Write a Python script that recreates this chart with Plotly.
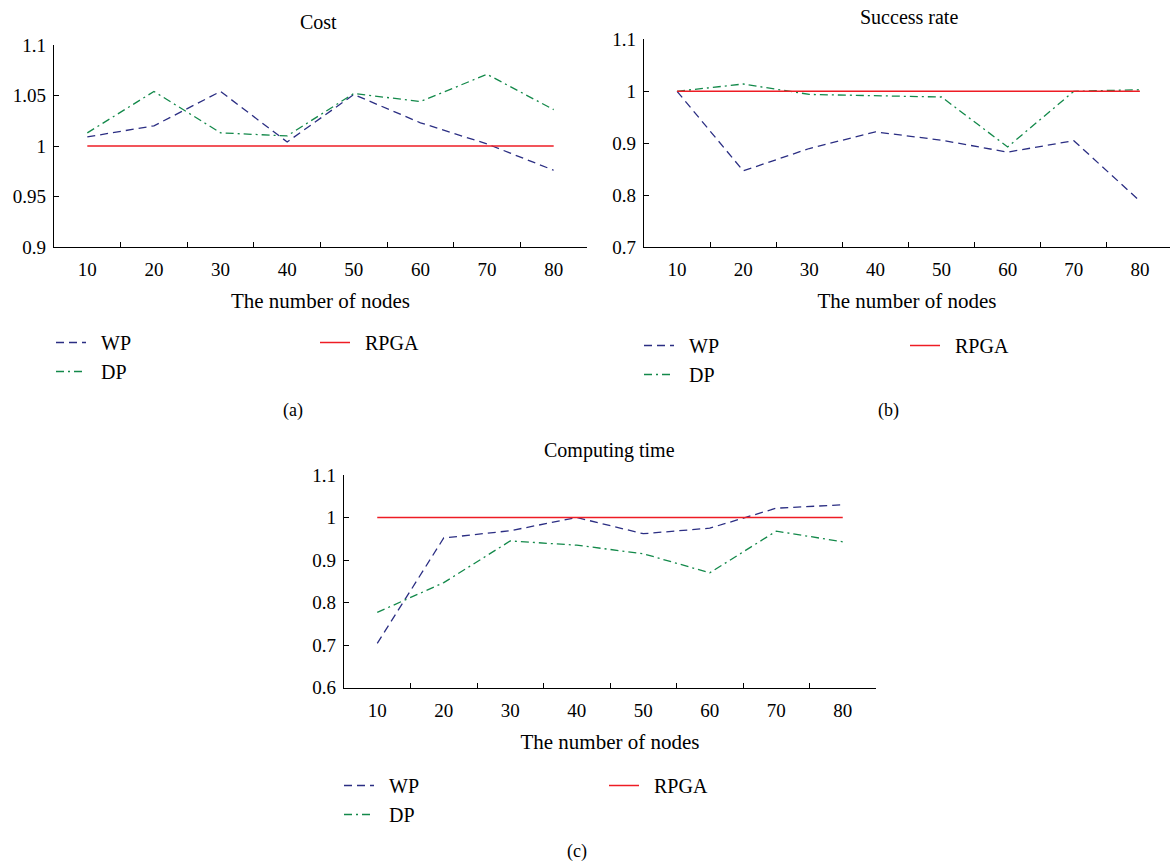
import plotly.graph_objects as go

# ---------------- data ----------------
nodes = [10, 20, 30, 40, 50, 60, 70, 80]

cost_wp = [1.009, 1.020, 1.054, 1.004, 1.051, 1.023, 1.002, 0.976]
cost_dp = [1.013, 1.054, 1.013, 1.010, 1.052, 1.044, 1.071, 1.036]
cost_rpga = [1.0, 1.0, 1.0, 1.0, 1.0, 1.0, 1.0, 1.0]

succ_wp = [1.0, 0.847, 0.890, 0.922, 0.906, 0.883, 0.905, 0.789]
succ_dp = [1.0, 1.014, 0.994, 0.992, 0.989, 0.893, 1.0, 1.003]
succ_rpga = [1.0, 1.0, 1.0, 1.0, 1.0, 1.0, 1.0, 1.0]

time_wp = [0.704, 0.952, 0.969, 1.0, 0.962, 0.975, 1.022, 1.030]
time_dp = [0.777, 0.847, 0.945, 0.935, 0.915, 0.870, 0.968, 0.943]
time_rpga = [1.0, 1.0, 1.0, 1.0, 1.0, 1.0, 1.0, 1.0]

x_ticks = [10, 20, 30, 40, 50, 60, 70, 80]
x_minor = [15, 25, 35, 45, 55, 65, 75]
cost_ticks = [0.9, 0.95, 1.0, 1.05, 1.1]
cost_ticktext = ["0.9", "0.95", "1", "1.05", "1.1"]
succ_ticks = [0.7, 0.8, 0.9, 1.0, 1.1]
succ_ticktext = ["0.7", "0.8", "0.9", "1", "1.1"]
time_ticks = [0.6, 0.7, 0.8, 0.9, 1.0, 1.1]
time_ticktext = ["0.6", "0.7", "0.8", "0.9", "1", "1.1"]

panel_titles = ["Cost", "Success rate", "Computing time"]
panel_labels = ["(a)", "(b)", "(c)"]
x_title = "The number of nodes"
series_names = ["WP", "DP", "RPGA"]

# ---------------- style ----------------
W, H = 1170, 863
FONT = "Liberation Serif"
NAVY = "#2b2e83"
GREEN = "#13894a"
RED = "#ee1c24"
WP_DASH = "8px,5px"
DP_DASH = "8px,4px,2px,4px"
NB = "\u00a0\u00a0"

def px(v):
    return v / W

def py(v):
    return 1 - v / H

fig = go.Figure()

panels = [
    dict(ax="", data=(cost_wp, cost_dp, cost_rpga), leg=("legend", "legend2")),
    dict(ax="2", data=(succ_wp, succ_dp, succ_rpga), leg=("legend3", "legend4")),
    dict(ax="3", data=(time_wp, time_dp, time_rpga), leg=("legend5", "legend6")),
]

for p in panels:
    wp, dp, rp = p["data"]
    xa = "x" + p["ax"]
    ya = "y" + p["ax"]
    fig.add_trace(go.Scatter(x=nodes, y=wp, mode="lines", name=NB + series_names[0],
                             xaxis=xa, yaxis=ya, legend=p["leg"][0],
                             line=dict(color=NAVY, width=1.3, dash=WP_DASH)))
    fig.add_trace(go.Scatter(x=nodes, y=dp, mode="lines", name=NB + series_names[1],
                             xaxis=xa, yaxis=ya, legend=p["leg"][0],
                             line=dict(color=GREEN, width=1.3, dash=DP_DASH)))
    fig.add_trace(go.Scatter(x=nodes, y=rp, mode="lines", name=NB + series_names[2],
                             xaxis=xa, yaxis=ya, legend=p["leg"][1],
                             line=dict(color=RED, width=1.5)))

def xaxis_cfg(domain, rng, anchor):
    return dict(domain=domain, range=rng, anchor=anchor,
                tickmode="array", tickvals=x_ticks, ticks="",
                showline=True, linecolor="black", linewidth=1.2,
                showgrid=False, zeroline=False, automargin=False,
                tickfont=dict(family=FONT, size=19, color="black"),
                ticklabelstandoff=5,
                minor=dict(tickmode="array", tickvals=x_minor, ticks="inside",
                           ticklen=5, tickcolor="black", tickwidth=1, showgrid=False),
                title=dict(text=x_title, standoff=14,
                           font=dict(family=FONT, size=21, color="black")))

def yaxis_cfg(domain, rng, tv, tt, anchor):
    return dict(domain=domain, range=rng, anchor=anchor,
                tickmode="array", tickvals=tv, ticktext=tt,
                ticks="inside", ticklen=5, tickcolor="black", tickwidth=1,
                showline=True, linecolor="black", linewidth=1.2,
                showgrid=False, zeroline=False, automargin=False,
                ticklabelstandoff=3,
                tickfont=dict(family=FONT, size=19, color="black"))

legfont = dict(family=FONT, size=20, color="black")

def leg(x, y):
    return dict(x=x, y=y, xanchor="left", yanchor="top", orientation="v",
                bgcolor="rgba(0,0,0,0)", font=legfont, tracegroupgap=0)

fig.update_layout(
    width=W, height=H,
    margin=dict(l=0, r=0, t=0, b=0),
    paper_bgcolor="white", plot_bgcolor="white",
    font=dict(family=FONT, color="black"),
    xaxis=xaxis_cfg([px(54), px(587)], [5, 85], "y"),
    yaxis=yaxis_cfg([py(247), py(45)], [0.9, 1.1], cost_ticks, cost_ticktext, "x"),
    xaxis2=xaxis_cfg([px(644), 1.0], [5, 84.55], "y2"),
    yaxis2=yaxis_cfg([py(247.3), py(39.3)], [0.7, 1.1], succ_ticks, succ_ticktext, "x2"),
    xaxis3=xaxis_cfg([px(344), px(876)], [5, 85], "y3"),
    yaxis3=yaxis_cfg([py(687.7), py(475)], [0.6, 1.1], time_ticks, time_ticktext, "x3"),
    legend=leg(px(51), py(323)),
    legend2=leg(px(315), py(323)),
    legend3=leg(px(639), py(326)),
    legend4=leg(px(905), py(326)),
    legend5=leg(px(339), py(766)),
    legend6=leg(px(604), py(766)),
    showlegend=True,
)

ann = []
title_pos = [(319, 22), (909, 17), (609, 450)]
for t, (x, y) in zip(panel_titles, title_pos):
    ann.append(dict(text=t, x=px(x), y=py(y), xref="paper", yref="paper",
                    xanchor="center", yanchor="middle", showarrow=False,
                    font=dict(family=FONT, size=20, color="black")))
label_pos = [(293, 410), (888, 410), (577, 851)]
for t, (x, y) in zip(panel_labels, label_pos):
    ann.append(dict(text=t, x=px(x), y=py(y), xref="paper", yref="paper",
                    xanchor="center", yanchor="middle", showarrow=False,
                    font=dict(family=FONT, size=18, color="black")))
fig.update_layout(annotations=ann)

fig.write_html("out.html",
               config={"displayModeBar": False},
               post_script="document.body.style.margin='0px';document.body.style.overflow='hidden';")
